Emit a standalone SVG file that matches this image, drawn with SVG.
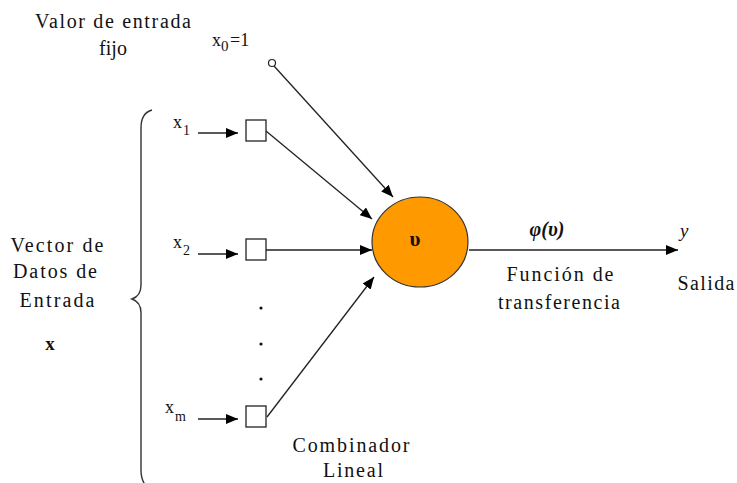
<svg xmlns="http://www.w3.org/2000/svg" width="737" height="483" viewBox="0 0 737 483">
<defs>
<marker id="ah" viewBox="0 0 12 10" refX="12" refY="5" markerWidth="12" markerHeight="10" markerUnits="userSpaceOnUse" orient="auto">
<path d="M0,0 L12,5 L0,10 z" fill="#000"/>
</marker>
<style>
text{font-size:20px;fill:#111}
.sub{font-size:14px}
.line{stroke:#222;stroke-width:1.3;fill:none;marker-end:url(#ah)}
.box{fill:#fff;stroke:#222;stroke-width:1.3}
</style>
</defs>
<rect width="737" height="483" fill="#fff"/>
<g style="font-family:'Liberation Serif',serif">

<g id="label-fixed">
<text x="113" y="28" text-anchor="middle" textLength="156" lengthAdjust="spacing">Valor de entrada</text>
<text x="113" y="55" text-anchor="middle">fijo</text>
</g>
<g id="x0">
<text x="212" y="46" style="font-size:18px">x</text>
<text x="221" y="51" class="sub" style="font-size:15px">0</text>
<text x="230" y="46" style="font-size:18px">=1</text>
<circle cx="272" cy="63" r="3.5" fill="#fff" stroke="#222" stroke-width="1.2"/>
</g>

<g id="input-vector-label">
<text x="57" y="252" text-anchor="middle" textLength="93" lengthAdjust="spacing">Vector de</text>
<text x="55" y="278" text-anchor="middle" textLength="84" lengthAdjust="spacing">Datos de</text>
<text x="57" y="307" text-anchor="middle" textLength="75" lengthAdjust="spacing">Entrada</text>
<text x="50" y="350" text-anchor="middle" font-weight="bold" style="font-size:19px">x</text>
</g>
<g id="brace">
<path d="M152,110 Q141,113 141,128 L141,285 Q141,296 132,299 Q141,302 141,313 L141,470 Q141,480 146,486" fill="none" stroke="#333" stroke-width="1.4"/>
</g>

<g id="x1">
<text x="173" y="128" style="font-size:18px">x</text>
<text x="183" y="135" class="sub">1</text>
<rect class="box" x="246" y="120" width="20" height="21"/>
</g>
<g id="x2">
<text x="173" y="248" style="font-size:18px">x</text>
<text x="183" y="255" class="sub">2</text>
<rect class="box" x="246" y="239" width="20" height="21"/>
</g>
<g id="dots">
<circle cx="261" cy="308" r="1.6" fill="#111"/>
<circle cx="261" cy="344" r="1.6" fill="#111"/>
<circle cx="261" cy="379" r="1.6" fill="#111"/>
</g>
<g id="xm">
<text x="165" y="413" style="font-size:18px">x</text>
<text x="175" y="421" class="sub">m</text>
<rect class="box" x="246" y="406" width="20" height="21"/>
</g>

<g id="neuron">
<ellipse cx="420" cy="242" rx="48" ry="45" fill="#FF9900" stroke="#333" stroke-width="1.2"/>
<text x="415" y="246" text-anchor="middle" font-weight="bold" style="font-size:21px">υ</text>
</g>

<g id="connectors">
<line class="line" x1="198" y1="133" x2="238" y2="133"/>
<line class="line" x1="198" y1="254" x2="238" y2="254"/>
<line class="line" x1="198" y1="419" x2="238" y2="419"/>
<line class="line" x1="274" y1="66" x2="393" y2="197"/>
<line class="line" x1="266" y1="131" x2="372" y2="219"/>
<line class="line" x1="266" y1="250" x2="372" y2="250"/>
<line class="line" x1="267" y1="417" x2="374" y2="277"/>
<line class="line" x1="469" y1="250" x2="678" y2="250"/>
</g>

<g id="transfer-label">
<text x="547" y="236" text-anchor="middle" font-weight="bold" font-style="italic" style="font-size:20px">φ(υ)</text>
<text x="560" y="281" text-anchor="middle" textLength="107" lengthAdjust="spacing">Función de</text>
<text x="559" y="309" text-anchor="middle" textLength="122" lengthAdjust="spacing">transferencia</text>
</g>
<g id="output">
<text x="680" y="237" font-style="italic" style="font-size:19px">y</text>
<text x="706" y="290" text-anchor="middle" textLength="57" lengthAdjust="spacing">Salida</text>
</g>
<g id="combiner-label">
<text x="351" y="452" text-anchor="middle" textLength="117" lengthAdjust="spacing">Combinador</text>
<text x="353" y="477" text-anchor="middle" textLength="60" lengthAdjust="spacing">Lineal</text>
</g>
</g>
</svg>
